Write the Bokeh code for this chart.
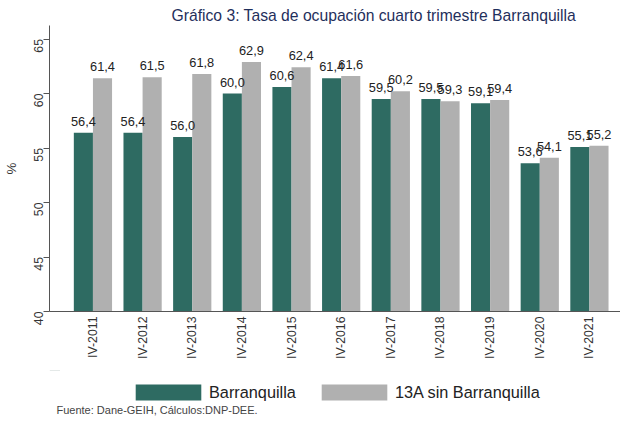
import math
from bokeh.plotting import figure
from bokeh.layouts import column
from bokeh.models import (ColumnDataSource, Range1d, FixedTicker, Legend, LegendItem,
                          Label, LabelSet)
from bokeh.core.properties import value
from bokeh.embed import file_html
from bokeh.resources import INLINE

categories = ["IV-2011", "IV-2012", "IV-2013", "IV-2014", "IV-2015", "IV-2016",
              "IV-2017", "IV-2018", "IV-2019", "IV-2020", "IV-2021"]
barranquilla = [56.4, 56.4, 56.0, 60.0, 60.6, 61.4, 59.5, 59.5, 59.1, 53.6, 55.1]
resto_13a = [61.4, 61.5, 61.8, 62.9, 62.4, 61.6, 60.2, 59.3, 59.4, 54.1, 55.2]
y_ticks = [40, 45, 50, 55, 60, 65]

title_text = "Gráfico 3: Tasa de ocupación cuarto trimestre Barranquilla"
source_text = "Fuente: Dane-GEIH, Cálculos:DNP-DEE."
series_names = ["Barranquilla", "13A sin Barranquilla"]

GREEN = "#2e6b62"
GRAY = "#b0b0b0"
AXIS = "#555555"
FONT = "Liberation Sans"

W = 620
LEFT = 47
TOP = 25
FRAME_H = 286
H_TOP = 370
H_BOT = 47

idx = list(range(len(categories)))
bw = 0.385
src = ColumnDataSource(dict(
    x1=[i - bw / 2 for i in idx],
    x2=[i + bw / 2 for i in idx],
    b=barranquilla,
    r=resto_13a,
    bl=[f"{v:.1f}".replace(".", ",") for v in barranquilla],
    rl=[f"{v:.1f}".replace(".", ",") for v in resto_13a],
))

# ---------------- main chart ----------------
p = figure(width=W, height=H_TOP, output_backend="svg", toolbar_location=None,
           x_range=Range1d(-0.875, 10.626), y_range=Range1d(40, 66.24),
           min_border_left=LEFT, min_border_right=0, min_border_top=TOP,
           min_border_bottom=H_TOP - TOP - FRAME_H)
p.title.text = title_text
p.title.align = "left"
p.title.offset = 122
p.title.text_font = FONT
p.title.text_font_size = "15.7px"
p.title.text_font_style = "normal"
p.title.text_color = "#1f2f5c"
p.title.standoff = 4

r1 = p.vbar(x="x1", top="b", bottom=40, width=bw, source=src, color=GREEN, line_color=None)
r2 = p.vbar(x="x2", top="r", bottom=40, width=bw, source=src, color=GRAY, line_color=None)

for xcol, ycol, tcol in [("x1", "b", "bl"), ("x2", "r", "rl")]:
    p.add_layout(LabelSet(x=xcol, y=ycol, text=tcol, source=src, text_align="center",
                          text_baseline="alphabetic", y_offset=7,
                          text_font=value(FONT), text_font_size="12.8px",
                          text_color="#222222"))

p.xgrid.visible = False
p.ygrid.visible = False
p.outline_line_color = None

p.xaxis.ticker = FixedTicker(ticks=idx)
p.xaxis.major_label_overrides = {i: c for i, c in zip(idx, categories)}
p.xaxis.major_label_orientation = math.pi / 2
p.xaxis.major_tick_out = 0
p.xaxis.major_tick_in = 0
p.xaxis.major_tick_line_color = None
p.xaxis.minor_tick_line_color = None
p.xaxis.major_label_text_font = FONT
p.xaxis.major_label_text_font_size = "12.3px"
p.xaxis.major_label_text_color = "#333333"
p.xaxis.major_label_standoff = 5
p.xaxis.axis_line_color = AXIS

p.yaxis.ticker = FixedTicker(ticks=y_ticks)
p.yaxis.major_label_orientation = math.pi / 2
p.yaxis.major_tick_out = 6
p.yaxis.major_tick_in = 0
p.yaxis.minor_tick_line_color = None
p.yaxis.major_label_text_font = FONT
p.yaxis.major_label_text_font_size = "12.3px"
p.yaxis.major_label_text_color = "#333333"
p.yaxis.major_label_standoff = 5
p.yaxis.axis_line_color = AXIS
p.yaxis.major_tick_line_color = AXIS
p.yaxis.axis_label = "%"
p.yaxis.axis_label_text_font = FONT
p.yaxis.axis_label_text_font_size = "13.3px"
p.yaxis.axis_label_text_font_style = "normal"
p.yaxis.axis_label_text_color = "#333333"
p.yaxis.axis_label_standoff = 8

# ---------------- legend + source strip ----------------
p2 = figure(width=W, height=H_BOT, output_backend="svg", toolbar_location=None,
            x_axis_location=None, y_axis_location=None,
            x_range=Range1d(0, W - LEFT), y_range=Range1d(-H_BOT, 0),
            min_border_left=LEFT, min_border_right=0, min_border_top=0, min_border_bottom=0)
p2.xgrid.visible = False
p2.ygrid.visible = False
p2.outline_line_color = None

# same series, drawn above this strip's visible range: only their legend keys show
k1 = p2.vbar(x="x1", top="b", bottom=40, width=bw, source=src, color=GREEN, line_color=None)
k2 = p2.vbar(x="x2", top="r", bottom=40, width=bw, source=src, color=GRAY, line_color=None)

legend = Legend(items=[LegendItem(label=series_names[0], renderers=[k1]),
                       LegendItem(label=series_names[1], renderers=[k2])],
                orientation="horizontal", location=(78, 15),
                glyph_width=82, glyph_height=20, label_height=20, label_standoff=0,
                spacing=17, padding=0, margin=0, border_line_color=None,
                background_fill_alpha=0,
                label_text_font=FONT, label_text_font_size="16.3px",
                label_text_color="#222222")
p2.add_layout(legend, "center")

p2.add_layout(Label(x=7, y=-39, text=source_text, text_baseline="middle",
                    text_font=FONT, text_font_size="11px", text_color="#444444"))

open("out.html", "w").write(file_html(column(p, p2), INLINE))
